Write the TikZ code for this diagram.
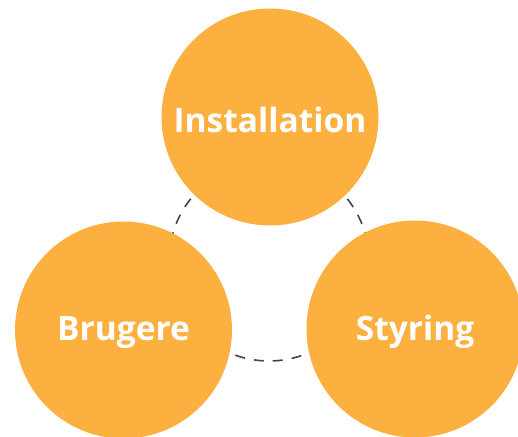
\documentclass[tikz,border=0pt]{standalone}
\usepackage{fontspec}
\setmainfont{Open Sans}
\usetikzlibrary{positioning}

\definecolor{bubbleorange}{HTML}{FBB040}
\definecolor{ringgray}{HTML}{454545}

\tikzset{
    bubble/.style={circle, fill=bubbleorange, minimum size=217pt, inner sep=0pt},
    bubbletext/.style={text=white, font=\fontsize{33.5}{40}\selectfont\bfseries, yshift=-3pt},
    ring/.style={draw=ringgray, line width=1.6pt, dash pattern=on 10pt off 9pt}
}

\begin{document}
\begin{tikzpicture}[x=1pt, y=1pt]

    \clip (0,0) rectangle (518,436);
    \useasboundingbox (0,0) rectangle (518,436);

    \coordinate (M) at (269,175);
    \coordinate (T) at (270,319);
    \coordinate (L) at (123.5,106);
    \coordinate (R) at (415,107);

    \draw[ring] (M) circle (100);

    \node[bubble] (inst) at (T) {};
    \node[bubble] (brug) at (L) {};
    \node[bubble] (styr) at (R) {};

    \node[bubbletext] (insttext) at (inst) {Installation};
    \node[bubbletext] (brugtext) at (brug) {Brugere};
    \node[bubbletext] (styrtext) at (styr) {Styring};

\end{tikzpicture}
\end{document}
